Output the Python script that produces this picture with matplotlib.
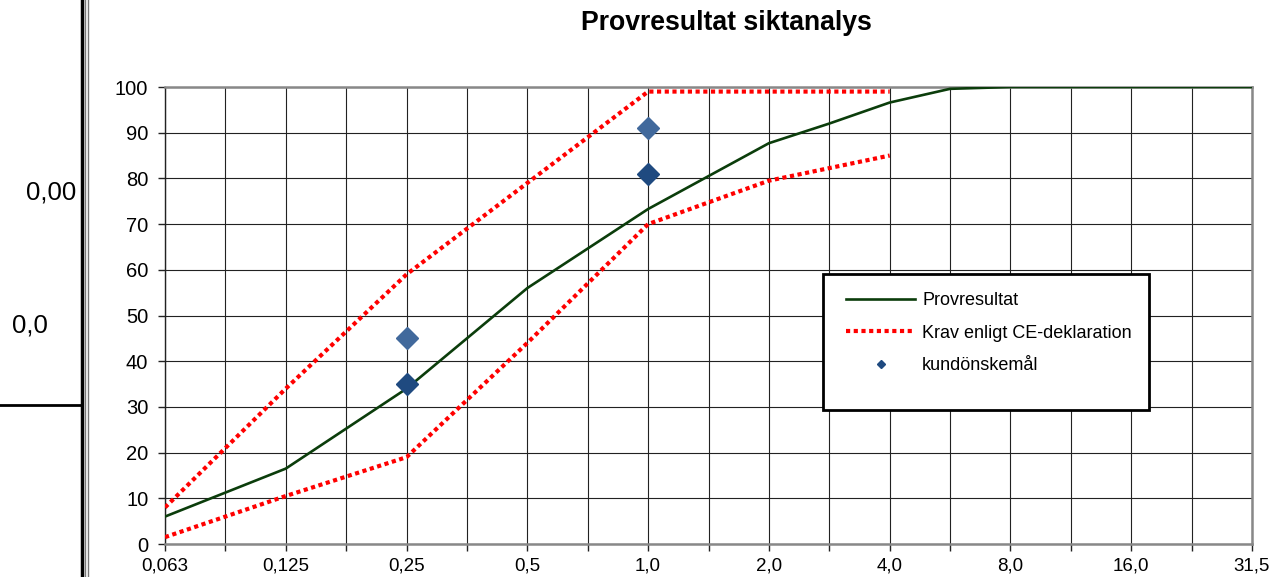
import matplotlib
matplotlib.use("Agg")
import matplotlib.pyplot as plt
from matplotlib.lines import Line2D
from matplotlib.patches import Rectangle

plt.rcParams["font.family"] = ["Liberation Sans", "DejaVu Sans"]

# Siktar (alla 19 positioner) och etiketter som visas
sikt = [0.063, 0.09, 0.125, 0.18, 0.25, 0.355, 0.5, 0.71, 1.0, 1.4,
        2.0, 2.8, 4.0, 5.6, 8.0, 11.2, 16.0, 22.4, 31.5]
sikt_etiketter = ["0,063", "0,125", "0,25", "0,5", "1,0", "2,0", "4,0", "8,0", "16,0", "31,5"]

# Provresultat (index i sikt-listan, passerande mängd %)
prov_idx = [0, 2, 4, 6, 8, 10, 11, 12, 13, 14, 16, 18]
prov_val = [6, 16.5, 34, 56, 73.3, 87.7, 92, 96.6, 99.6, 100, 100, 100]

# Krav enligt CE-deklaration (övre och undre gräns)
krav_idx = [0, 2, 4, 6, 8, 10, 12]
krav_ovre = [8, 34, 59, 79, 99, 99, 99]
krav_undre = [1.5, 10.5, 19, 44, 70, 79.5, 85]

# Kundönskemål
kund_idx = [4, 8]
kund_ovre = [45, 91]
kund_undre = [35, 81]

fig = plt.figure(figsize=(12.74, 5.77), dpi=100)
ax = fig.add_axes([165 / 1274, 33 / 577, 1087 / 1274, 457 / 577])

gron = "#0b3d0b"
rod = "#ff0000"
prickar = (0, (1, 0.85))

ax.plot(prov_idx, prov_val, color=gron, lw=1.9, label="Provresultat", zorder=4)
ax.plot(krav_idx, krav_ovre, color=rod, lw=3, linestyle=prickar,
        dash_capstyle="butt", zorder=3)
ax.plot(krav_idx, krav_undre, color=rod, lw=3, linestyle=prickar,
        dash_capstyle="butt", zorder=3)
ax.plot(kund_idx, kund_ovre, linestyle="none", marker="D", ms=11,
        color="#41699c", zorder=5)
ax.plot(kund_idx, kund_undre, linestyle="none", marker="D", ms=11,
        color="#1f4a80", zorder=5)

ax.set_xlim(0, len(sikt) - 1)
ax.set_ylim(0, 100)
ax.set_yticks(range(0, 101, 10))
ax.set_xticks(range(0, len(sikt), 2))
ax.set_xticklabels(sikt_etiketter)
ax.set_xticks(range(1, len(sikt), 2), minor=True)
ax.tick_params(axis="both", which="both", direction="out", length=5,
               width=1, color="#222222")
ax.tick_params(axis="x", labelsize=13.5, pad=5)
ax.tick_params(axis="y", labelsize=14.5, pad=7)

ax.grid(True, which="both", color="#222222", lw=0.8, zorder=0)
for side in ["top", "right", "bottom"]:
    ax.spines[side].set_color("#888888")
    ax.spines[side].set_linewidth(1.8)
ax.spines["left"].set_color("#222222")
ax.spines["left"].set_linewidth(1)

fig.text(726 / 1274, 1 - 23 / 577, "Provresultat siktanalys",
         ha="center", va="center", fontsize=19.2, fontweight="bold")

# Legend i egen ram
ruta = Rectangle((823 / 1274, 1 - 410 / 577), 326 / 1274, 136 / 577,
                 transform=fig.transFigure, facecolor="white",
                 edgecolor="black", lw=2, zorder=10)
fig.add_artist(ruta)
handles = [
    Line2D([], [], color=gron, lw=1.9),
    Line2D([], [], color=rod, lw=3, linestyle=prickar, dash_capstyle="butt"),
    Line2D([], [], color="#1f4a80", marker="D", ms=4, linestyle="none"),
]
labels = ["Provresultat", "Krav enligt CE-deklaration", "kundönskemål"]
leg = fig.legend(handles, labels, loc="upper left",
                 bbox_to_anchor=(830 / 1274, 1 - 276 / 577),
                 frameon=False, fontsize=13, handlelength=3.8,
                 labelspacing=0.85, handletextpad=0.4)
leg.set_zorder(11)

# Rester av kalkylbladet till vänster
fig.add_artist(Line2D([82 / 1274, 82 / 1274], [0, 1], color="black", lw=2.5,
                      transform=fig.transFigure))
fig.add_artist(Line2D([85 / 1274, 85 / 1274], [0, 1], color="#777777", lw=1,
                      transform=fig.transFigure))
fig.add_artist(Line2D([88 / 1274, 88 / 1274], [0, 1], color="#777777", lw=1,
                      transform=fig.transFigure))
fig.add_artist(Line2D([0, 82 / 1274], [1 - 405 / 577, 1 - 405 / 577],
                      color="black", lw=2, transform=fig.transFigure))
fig.text(76 / 1274, 1 - 192 / 577, "0,00", ha="right", va="center", fontsize=18.5)
fig.text(12 / 1274, 1 - 325 / 577, "0,0", ha="left", va="center", fontsize=18.5)

fig.savefig("out.png", dpi=100)
